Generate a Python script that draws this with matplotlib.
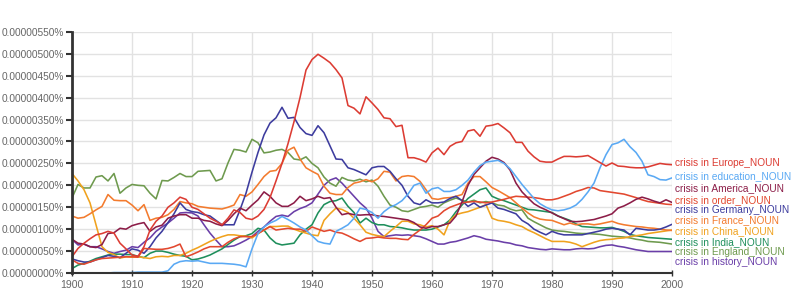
import matplotlib
matplotlib.use("Agg")
import matplotlib.pyplot as plt
from matplotlib.ticker import FuncFormatter, MultipleLocator

plt.rcParams['font.family'] = ['Liberation Sans', 'DejaVu Sans']

# values in units of 0.000001 %
years = list(range(1900, 2001))

europe = [0.37, 0.56, 0.68, 0.78, 0.87, 0.90, 0.95, 0.91, 0.68, 0.55,
          0.41, 0.38, 0.60, 0.98, 1.18, 1.30, 1.50, 1.60, 1.73, 1.68,
          1.50, 1.45, 1.35, 1.25, 1.18, 1.10, 1.25, 1.44, 1.38, 1.25,
          1.22, 1.30, 1.45, 1.72, 2.10, 2.50, 2.95, 3.45, 4.00, 4.63,
          4.87, 4.99, 4.90, 4.80, 4.64, 4.45, 3.82, 3.76, 3.63, 4.02,
          3.88, 3.73, 3.54, 3.52, 3.34, 3.37, 2.63, 2.63, 2.59, 2.53,
          2.74, 2.85, 2.70, 2.89, 2.97, 3.00, 3.24, 3.27, 3.12, 3.35,
          3.37, 3.41, 3.31, 3.20, 2.98, 2.98, 2.78, 2.65, 2.55, 2.53,
          2.53, 2.60, 2.66, 2.66, 2.65, 2.66, 2.68, 2.60, 2.52, 2.44,
          2.51, 2.44, 2.43, 2.41, 2.40, 2.40, 2.42, 2.46, 2.50, 2.48, 2.47]

education = [0.00, 0.00, 0.00, 0.00, 0.00, 0.00, 0.00, 0.01, 0.01, 0.01,
             0.01, 0.02, 0.02, 0.02, 0.02, 0.02, 0.05, 0.20, 0.26, 0.28,
             0.27, 0.28, 0.25, 0.22, 0.22, 0.22, 0.21, 0.20, 0.18, 0.14,
             0.55, 0.90, 1.05, 1.14, 1.20, 1.29, 1.22, 1.14, 1.05, 0.98,
             0.85, 0.72, 0.68, 0.66, 0.95, 1.02, 1.10, 1.25, 1.48, 1.45,
             1.38, 1.25, 1.40, 1.50, 1.56, 1.65, 1.80, 2.00, 2.05, 1.82,
             1.92, 1.95, 1.86, 1.86, 1.90, 2.00, 2.12, 2.30, 2.45, 2.53,
             2.55, 2.57, 2.50, 2.38, 2.20, 2.02, 1.86, 1.70, 1.58, 1.50,
             1.44, 1.42, 1.44, 1.48, 1.55, 1.68, 1.85, 2.05, 2.40, 2.70,
             2.93, 2.97, 3.05, 2.88, 2.75, 2.55, 2.24, 2.20, 2.13, 2.12, 2.17]

america = [0.77, 0.68, 0.66, 0.60, 0.58, 0.65, 0.90, 0.92, 1.02, 1.00,
           1.08, 1.12, 1.15, 0.95, 1.05, 1.09, 1.25, 1.30, 1.33, 1.33,
           1.25, 1.25, 1.20, 1.18, 1.12, 1.08, 1.20, 1.35, 1.48, 1.42,
           1.55, 1.67, 1.85, 1.75, 1.60, 1.52, 1.52, 1.60, 1.75, 1.65,
           1.69, 1.75, 1.70, 1.72, 1.50, 1.33, 1.36, 1.33, 1.32, 1.33,
           1.33, 1.30, 1.29, 1.27, 1.25, 1.23, 1.21, 1.15, 1.05, 1.02,
           1.06, 1.06, 1.10, 1.14, 1.30, 1.62, 2.00, 2.25, 2.40, 2.55,
           2.64, 2.60, 2.52, 2.35, 2.05, 1.85, 1.71, 1.58, 1.50, 1.44,
           1.37, 1.30, 1.24, 1.18, 1.17, 1.18, 1.20, 1.22, 1.26, 1.30,
           1.35, 1.48, 1.53, 1.60, 1.68, 1.73, 1.69, 1.64, 1.60, 1.67, 1.61]

order = [0.30, 0.22, 0.20, 0.25, 0.30, 0.33, 0.34, 0.35, 0.36, 0.37,
         0.37, 0.36, 0.56, 0.55, 0.54, 0.54, 0.56, 0.60, 0.66, 0.37,
         0.42, 0.48, 0.55, 0.60, 0.60, 0.60, 0.70, 0.78, 0.83, 0.83,
         0.83, 0.90, 0.98, 1.06, 0.98, 1.00, 1.02, 1.00, 1.00, 0.95,
         1.05, 1.00, 0.95, 0.98, 0.93, 0.91, 0.85, 0.78, 0.72, 0.79,
         0.80, 0.82, 0.80, 0.79, 0.79, 0.77, 0.76, 0.88, 0.98, 1.10,
         1.25, 1.30, 1.42, 1.50, 1.55, 1.60, 1.62, 1.63, 1.62, 1.60,
         1.62, 1.65, 1.68, 1.72, 1.75, 1.74, 1.73, 1.72, 1.70, 1.67,
         1.67, 1.70, 1.75, 1.80, 1.86, 1.90, 1.95, 1.94, 1.88, 1.86,
         1.84, 1.82, 1.80, 1.76, 1.72, 1.67, 1.63, 1.61, 1.59, 1.57, 1.56]

germany = [0.32, 0.28, 0.25, 0.25, 0.30, 0.35, 0.40, 0.38, 0.35, 0.45,
           0.55, 0.52, 0.45, 0.60, 0.80, 0.95, 1.15, 1.35, 1.60, 1.45,
           1.40, 1.38, 1.33, 1.30, 1.20, 1.10, 1.10, 1.10, 1.44, 1.82,
           2.30, 2.75, 3.15, 3.42, 3.54, 3.78, 3.53, 3.55, 3.32, 3.18,
           3.14, 3.36, 3.20, 2.90, 2.60, 2.59, 2.40, 2.36, 2.30, 2.24,
           2.40, 2.43, 2.43, 2.32, 2.15, 2.00, 1.75, 1.60, 1.56, 1.67,
           1.60, 1.60, 1.62, 1.70, 1.75, 1.65, 1.52, 1.60, 1.50, 1.55,
           1.60, 1.48, 1.45, 1.40, 1.35, 1.20, 1.12, 1.00, 0.93, 0.87,
           0.95, 0.90, 0.87, 0.87, 0.87, 0.87, 0.90, 0.93, 0.96, 1.00,
           1.02, 1.00, 0.98, 0.87, 1.02, 1.00, 0.98, 0.98, 1.00, 1.05, 1.11]

france = [1.30, 1.25, 1.27, 1.35, 1.44, 1.52, 1.79, 1.66, 1.65, 1.65,
          1.55, 1.42, 1.56, 1.20, 1.25, 1.27, 1.33, 1.45, 1.63, 1.60,
          1.58, 1.52, 1.50, 1.48, 1.47, 1.46, 1.50, 1.55, 1.79, 1.75,
          1.85, 2.02, 2.20, 2.32, 2.34, 2.50, 2.80, 2.87, 2.60, 2.40,
          2.32, 2.25, 1.98, 1.82, 1.79, 1.79, 1.95, 2.05, 2.08, 2.13,
          2.08, 2.15, 2.32, 2.30, 2.10, 2.20, 2.22, 2.20, 2.09, 1.90,
          1.70, 1.68, 1.71, 1.72, 1.75, 1.79, 2.05, 2.20, 2.20, 2.08,
          1.95, 1.88, 1.80, 1.72, 1.60, 1.48, 1.37, 1.28, 1.23, 1.21,
          1.20, 1.15, 1.10, 1.14, 1.10, 1.12, 1.12, 1.10, 1.12, 1.15,
          1.18, 1.13, 1.10, 1.08, 1.06, 1.05, 1.03, 1.02, 1.00, 0.98, 0.97]

china = [2.27, 2.10, 1.90, 1.60, 1.10, 0.60, 0.47, 0.42, 0.34, 0.37,
         0.36, 0.37, 0.35, 0.33, 0.37, 0.38, 0.37, 0.40, 0.40, 0.45,
         0.52, 0.58, 0.65, 0.72, 0.78, 0.83, 0.87, 0.87, 0.85, 0.84,
         0.80, 0.90, 0.98, 1.06, 1.06, 1.07, 1.07, 1.00, 0.95, 0.91,
         0.87, 0.85, 1.20, 1.35, 1.48, 1.45, 1.38, 1.25, 1.10, 0.93,
         0.88, 0.85, 0.83, 0.95, 1.06, 1.18, 1.18, 1.12, 1.10, 1.05,
         1.08, 1.00, 0.87, 1.20, 1.33, 1.37, 1.40, 1.45, 1.50, 1.56,
         1.25, 1.20, 1.18, 1.15, 1.10, 1.06, 0.98, 0.92, 0.85, 0.78,
         0.72, 0.72, 0.72, 0.70, 0.66, 0.60, 0.65, 0.70, 0.74, 0.76,
         0.77, 0.79, 0.80, 0.83, 0.85, 0.87, 0.90, 0.92, 0.94, 0.96, 0.98]

india = [0.10, 0.18, 0.22, 0.27, 0.33, 0.37, 0.41, 0.43, 0.43, 0.42,
         0.42, 0.38, 0.35, 0.45, 0.50, 0.50, 0.47, 0.43, 0.40, 0.38,
         0.30, 0.32, 0.36, 0.41, 0.48, 0.55, 0.65, 0.75, 0.83, 0.85,
         0.90, 1.02, 0.98, 0.80, 0.68, 0.64, 0.66, 0.68, 0.87, 1.00,
         1.10, 1.37, 1.56, 1.63, 1.65, 1.71, 1.52, 1.38, 1.14, 1.25,
         1.15, 1.10, 1.10, 1.06, 1.05, 1.03, 1.00, 0.98, 0.98, 0.98,
         1.00, 1.05, 1.10, 1.21, 1.40, 1.55, 1.70, 1.80, 1.90, 1.94,
         1.75, 1.69, 1.65, 1.60, 1.55, 1.50, 1.45, 1.44, 1.42, 1.40,
         1.38, 1.30, 1.25, 1.20, 1.12, 1.06, 1.05, 1.04, 1.03, 1.03,
         1.04, 1.00, 0.95, 0.88, 0.85, 0.83, 0.81, 0.80, 0.79, 0.78, 0.77]

england = [1.71, 2.02, 1.94, 1.94, 2.19, 2.22, 2.10, 2.27, 1.82, 1.94,
           2.02, 2.00, 1.99, 1.82, 1.69, 2.11, 2.10, 2.18, 2.27, 2.20,
           2.20, 2.32, 2.33, 2.34, 2.10, 2.15, 2.51, 2.82, 2.80, 2.76,
           3.05, 2.97, 2.74, 2.76, 2.80, 2.82, 2.75, 2.60, 2.58, 2.65,
           2.50, 2.40, 2.19, 2.05, 1.98, 2.18, 2.12, 2.10, 2.14, 2.08,
           2.12, 1.98, 1.75, 1.55, 1.50, 1.42, 1.40, 1.45, 1.50, 1.52,
           1.55, 1.50, 1.60, 1.66, 1.71, 1.66, 1.62, 1.66, 1.60, 1.63,
           1.60, 1.55, 1.53, 1.46, 1.42, 1.44, 1.25, 1.17, 1.10, 1.03,
           0.98, 0.96, 0.95, 0.93, 0.91, 0.90, 0.90, 0.89, 0.88, 0.86,
           0.84, 0.83, 0.82, 0.80, 0.77, 0.75, 0.72, 0.71, 0.70, 0.68, 0.66]

history = [0.77, 0.64, 0.66, 0.60, 0.60, 0.55, 0.49, 0.45, 0.49, 0.52,
           0.60, 0.58, 0.70, 0.80, 0.95, 1.05, 1.14, 1.25, 1.37, 1.38,
           1.37, 1.30, 1.10, 0.91, 0.75, 0.60, 0.60, 0.62, 0.68, 0.75,
           0.83, 0.95, 1.05, 1.18, 1.29, 1.32, 1.29, 1.40, 1.47, 1.52,
           1.60, 1.80, 2.00, 2.12, 2.17, 2.05, 1.90, 1.75, 1.60, 1.48,
           1.25, 0.95, 0.83, 0.85, 0.87, 0.86, 0.87, 0.85, 0.83, 0.78,
           0.72, 0.66, 0.66, 0.70, 0.72, 0.76, 0.80, 0.85, 0.82, 0.77,
           0.75, 0.73, 0.70, 0.68, 0.64, 0.62, 0.58, 0.56, 0.54, 0.53,
           0.55, 0.54, 0.53, 0.53, 0.55, 0.56, 0.55, 0.56, 0.60, 0.63,
           0.64, 0.61, 0.59, 0.56, 0.53, 0.51, 0.49, 0.49, 0.49, 0.49, 0.49]

names = ['crisis in Europe_NOUN', 'crisis in education_NOUN', 'crisis in America_NOUN',
         'crisis in order_NOUN', 'crisis in Germany_NOUN', 'crisis in France_NOUN',
         'crisis in China_NOUN', 'crisis in India_NOUN', 'crisis in England_NOUN',
         'crisis in history_NOUN']
series = [europe, education, america, order, germany, france, china, india, england, history]
colors = ['#dc3c33', '#5aa9f4', '#8c1d48', '#e2482f', '#3d3c9e',
          '#f37b2e', '#f0a21e', '#1f8f5c', '#6e9a4e', '#6a3ea8']
# where the labels sit at the right end (data units, spread to avoid overlap)
label_y = [2.50, 2.22, 1.94, 1.66, 1.43, 1.20, 0.95, 0.71, 0.49, 0.25]

fig = plt.figure(figsize=(8, 3.04), dpi=100)
ax = fig.add_axes([0.09, 0.102, 0.75, 0.793])

for vals, c in zip(series[::-1], colors[::-1]):
    ax.plot(years, vals, color=c, lw=1.15, solid_joinstyle='round')

for name, c, ly in zip(names, colors, label_y):
    ax.text(2000.5, ly, name, color=c, fontsize=7.3, va='center', ha='left', clip_on=False)

ax.set_xlim(1900, 2000)
ax.set_ylim(0, 5.5)
ax.xaxis.set_major_locator(MultipleLocator(10))
ax.yaxis.set_major_locator(MultipleLocator(0.5))
ax.yaxis.set_major_formatter(FuncFormatter(lambda v, p: f"{v * 1e-6:.8f}%"))
ax.grid(True, color='#e2e2e2', lw=1)
ax.set_axisbelow(True)

for s in ['top', 'right']:
    ax.spines[s].set_visible(False)
ax.spines['left'].set_color('#333333')
ax.spines['left'].set_linewidth(2)
ax.spines['bottom'].set_color('#333333')
ax.spines['bottom'].set_linewidth(1.5)

ax.tick_params(axis='y', colors='#333333', labelcolor='#666666', labelsize=7.3, length=4, width=1.5, pad=1.5)
ax.tick_params(axis='x', colors='#333333', labelcolor='#666666', labelsize=7.6, length=4, width=1, direction='inout', pad=3)

fig.savefig('out.png', dpi=100)
